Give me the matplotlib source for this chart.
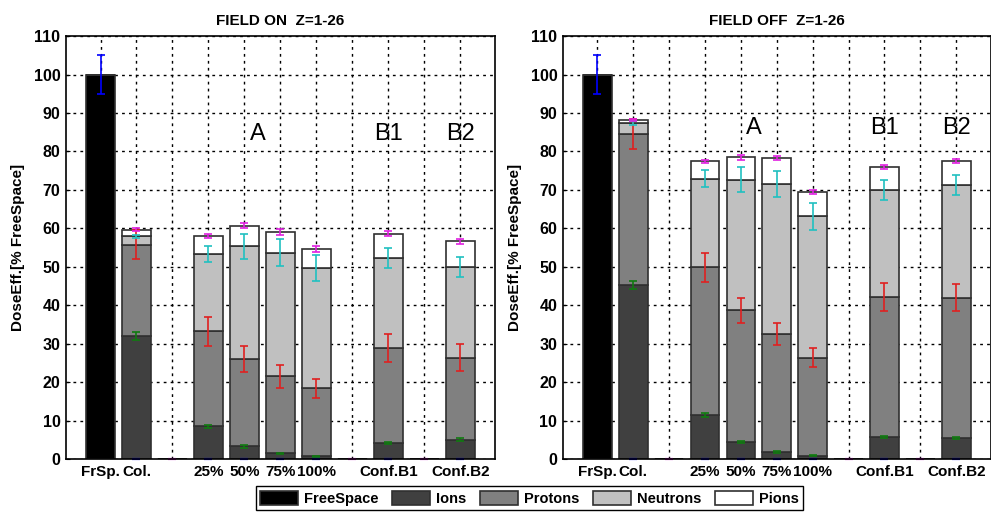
import numpy as np
import matplotlib
matplotlib.use('Agg')
import matplotlib.pyplot as plt
from matplotlib.patches import Patch

plt.rcParams['font.family'] = ['Liberation Sans', 'DejaVu Sans']

# categories (11 slots, empty slots in between groups)
labels = ['FrSp.', 'Col.', '', '25%', '50%', '75%', '100%', '', 'Conf.B1', '', 'Conf.B2']
series = ['FreeSpace', 'Ions', 'Protons', 'Neutrons', 'Pions']

# FIELD ON: component values (stacked)
on_free = [100, 0, 0, 0, 0, 0, 0, 0, 0, 0, 0]
on_ions = [0, 32.0, 0, 8.5, 3.3, 1.5, 0.7, 0, 4.2, 0, 5.1]
on_prot = [0, 23.8, 0, 24.7, 22.7, 20.1, 17.7, 0, 24.7, 0, 21.3]
on_neut = [0, 2.1, 0, 20.2, 29.3, 32.1, 31.4, 0, 23.4, 0, 23.6]
on_pion = [0, 1.8, 0, 4.7, 5.4, 5.4, 4.8, 0, 6.3, 0, 6.6]
# FIELD ON: error half-widths
on_free_err = [5, 0, 0, 0, 0, 0, 0, 0, 0, 0, 0]
on_ions_err = [0, 1.1, 0, 0.5, 0.3, 0.2, 0.2, 0, 0.3, 0, 0.4]
on_prot_err = [0, 3.8, 0, 3.8, 3.3, 3.0, 2.4, 0, 3.6, 0, 3.5]
on_neut_err = [0, 0.5, 0, 2.1, 3.2, 3.5, 3.4, 0, 2.6, 0, 2.6]
on_pion_err = [0, 0.5, 0, 0.5, 0.6, 0.8, 0.7, 0, 0.7, 0, 0.7]

# FIELD OFF
off_free = [100, 0, 0, 0, 0, 0, 0, 0, 0, 0, 0]
off_ions = [0, 45.3, 0, 11.5, 4.4, 1.9, 0.9, 0, 5.8, 0, 5.5]
off_prot = [0, 39.3, 0, 38.4, 34.3, 30.7, 25.5, 0, 36.4, 0, 36.5]
off_neut = [0, 2.7, 0, 23.0, 34.0, 38.9, 36.7, 0, 27.7, 0, 29.2]
off_pion = [0, 0.8, 0, 4.6, 5.8, 6.8, 6.3, 0, 6.1, 0, 6.3]
off_free_err = [5, 0, 0, 0, 0, 0, 0, 0, 0, 0, 0]
off_ions_err = [0, 1.1, 0, 0.5, 0.3, 0.2, 0.1, 0, 0.3, 0, 0.3]
off_prot_err = [0, 3.9, 0, 3.8, 3.3, 2.9, 2.4, 0, 3.6, 0, 3.6]
off_neut_err = [0, 0.5, 0, 2.2, 3.2, 3.4, 3.5, 0, 2.6, 0, 2.6]
off_pion_err = [0, 0.3, 0, 0.4, 0.6, 0.6, 0.5, 0, 0.5, 0, 0.5]

fill_cols = ['#000000', '#404040', '#808080', '#c0c0c0', '#ffffff']
err_cols = ['#0000ff', '#107a10', '#e02020', '#20c0c0', '#e020e0']


def panel(ax, vals, errs, title, txt_y):
    x = np.arange(1, len(labels) + 1)
    vals = np.array(vals, dtype=float)
    errs = np.array(errs, dtype=float)
    total = vals.sum(axis=0)
    bottom = np.zeros(len(x))
    tops = []
    for i in range(len(series)):
        ax.bar(x, vals[i], 0.8, bottom=bottom, color=fill_cols[i],
               edgecolor='#303030', linewidth=1.2, zorder=3)
        bottom = bottom + vals[i]
        tops.append(bottom.copy())
    for i in range(len(series)):
        m = vals[i] > 0
        ax.errorbar(x[m], tops[i][m], yerr=errs[i][m], fmt='none',
                    ecolor=err_cols[i], elinewidth=1.2, capsize=3,
                    capthick=1.2, zorder=4)
    # small zero marks at the bottom
    m = (vals[0] == 0) & (total > 0)
    ax.errorbar(x[m], np.zeros(m.sum()), yerr=0, fmt='none', ecolor=err_cols[0],
                capsize=3, capthick=1.5, zorder=5, clip_on=False)
    m = total == 0
    ax.errorbar(x[m], np.zeros(m.sum()), yerr=0, fmt='none', ecolor=err_cols[4],
                capsize=3, capthick=1.5, zorder=5, clip_on=False)

    ax.set_xlim(0.04, 11.97)
    ax.set_ylim(0, 110)
    ax.set_xticks(x)
    ax.set_xticklabels(labels, fontsize=11, fontweight='bold')
    ax.set_yticks(np.arange(0, 111, 10))
    ax.tick_params(axis='y', labelsize=11.5, direction='in', length=3, pad=4)
    ax.tick_params(axis='x', direction='in', length=0, pad=4)
    for t in ax.get_yticklabels():
        t.set_fontweight('bold')
    ax.grid(True, color='k', linestyle=(0, (2, 3)), linewidth=1)
    ax.set_axisbelow(True)
    ax.set_ylabel('DoseEff.[% FreeSpace]', fontsize=11, fontweight='bold', labelpad=6)
    ax.set_title(title, fontsize=11, fontweight='bold', pad=8)
    for s in ax.spines.values():
        s.set_linewidth(1.2)
        s.set_zorder(6)
    ax.text(5.37, txt_y, 'A', fontsize=17, ha='center', va='center')
    ax.text(9.0, txt_y, 'B1', fontsize=17, ha='center', va='center')
    ax.text(11.0, txt_y, 'B2', fontsize=17, ha='center', va='center')


fig = plt.figure(figsize=(9.91, 5.13), dpi=100)
ax1 = fig.add_axes([0.0666, 0.105, 0.433, 0.8246])
ax2 = fig.add_axes([0.568, 0.105, 0.432, 0.8246])

panel(ax1, [on_free, on_ions, on_prot, on_neut, on_pion],
      [on_free_err, on_ions_err, on_prot_err, on_neut_err, on_pion_err],
      'FIELD ON  Z=1-26', 84.5)
panel(ax2, [off_free, off_ions, off_prot, off_neut, off_pion],
      [off_free_err, off_ions_err, off_prot_err, off_neut_err, off_pion_err],
      'FIELD OFF  Z=1-26', 86)

handles = [Patch(facecolor=c, edgecolor='#303030', linewidth=1.2) for c in fill_cols]
leg = fig.legend(handles, series, loc='center', bbox_to_anchor=(0.534, 0.029),
                 ncol=5, fancybox=False, edgecolor='k', framealpha=1,
                 prop={'weight': 'bold', 'size': 10.5}, handlelength=2.6,
                 handleheight=1.15, columnspacing=0.95, handletextpad=0.4,
                 borderpad=0.3)
leg.get_frame().set_linewidth(1.0)

fig.savefig('out.png', dpi=100)
